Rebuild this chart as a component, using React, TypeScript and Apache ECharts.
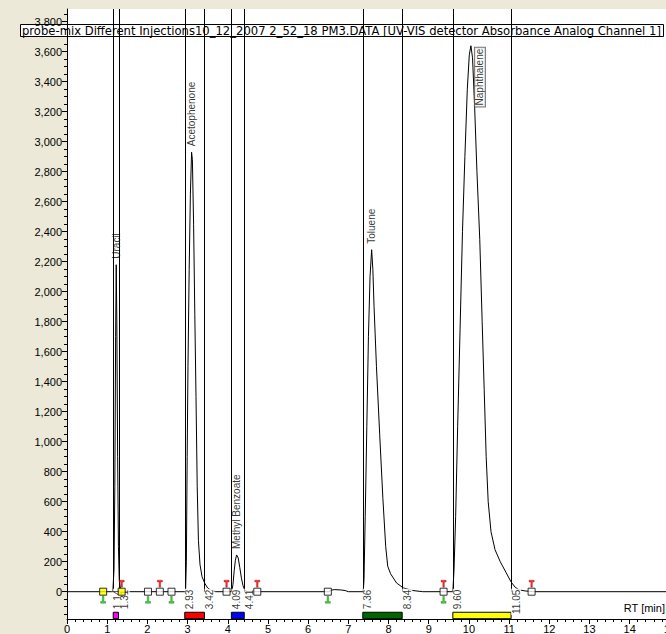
import React, { useEffect, useRef } from 'react';
import * as echarts from 'echarts';

// ---- Chromatogram trace (retention time in min, absorbance) ----
const rtMinutes = [
  0, 1.10, 1.14, 1.17, 1.19, 1.21, 1.225, 1.24, 1.26, 1.28, 1.30, 1.33, 1.40,
  2.95, 2.97, 2.99, 3.01, 3.04, 3.07, 3.10, 3.12, 3.15, 3.18, 3.21, 3.24, 3.27, 3.31, 3.36, 3.43, 3.50, 3.58, 3.70,
  4.10, 4.13, 4.16, 4.19, 4.22, 4.26, 4.30, 4.34, 4.38, 4.42, 4.48,
  6.52, 6.58, 6.65, 6.80, 6.92, 7.00,
  7.37, 7.39, 7.42, 7.46, 7.50, 7.54, 7.58, 7.61, 7.64, 7.70, 7.78, 7.86, 7.93, 7.98, 8.05, 8.20, 8.37, 8.60, 8.85,
  9.60, 9.63, 9.67, 9.72, 9.78, 9.84, 9.90, 9.96, 10.01, 10.05, 10.09, 10.14, 10.20, 10.27, 10.33, 10.38, 10.43, 10.48, 10.55, 10.65, 10.78, 10.92, 11.05, 11.15, 11.25, 11.40, 11.60,
  15.75,
];
const absorbance = [
  0, 0, 0, 150, 700, 1700, 2180, 1800, 900, 300, 80, 15, 0,
  0, 200, 900, 1500, 2150, 2650, 2930, 2880, 2450, 1850, 1300, 700, 340, 180, 100, 55, 25, 10, 0,
  0, 50, 140, 210, 245, 225, 160, 90, 40, 12, 0,
  0, 10, 14, 12, 8, 0,
  0, 80, 500, 1100, 1700, 2100, 2280, 2150, 1900, 1500, 1050, 620, 300, 170, 120, 58, 25, 8, 0,
  0, 150, 500, 1100, 1750, 2400, 2900, 3350, 3580, 3640, 3560, 3250, 2800, 2350, 1800, 1350, 900, 600, 400, 280, 200, 130, 65, 30, 12, 5, 0,
  0,
];

// ---- Peak annotations ----
const compoundNames = ['Uracil', 'Acetophenone', 'Methyl Benzoate', 'Toluene', 'Naphthalene'];
const apexRT = [1.225, 3.10, 4.22, 7.58, 10.05];
const apexHeight = [2180, 2930, 245, 2280, 3640];

const boundaryRT = [1.14, 1.31, 2.93, 3.42, 4.09, 4.41, 7.36, 8.34, 9.60, 11.05];
const boundaryLabels = ['1.14', '1.31', '2.93', '3.42', '4.09', '4.41', '7.36', '8.34', '9.60', '11.05'];

const windowStart = [1.15, 2.93, 4.09, 7.36, 9.60];
const windowEnd = [1.28, 3.42, 4.41, 8.34, 11.05];
const windowColors = ['#FF00FF', '#FF0000', '#0000FF', '#006400', '#FFFF00'];

// ---- Baseline event markers ----
const squareRT = [0.9, 1.36, 2.015, 2.31, 2.6, 3.97, 4.735, 6.49, 9.37, 11.56];
const squareFill = ['#FFFF00', '#FFFF00', '#FFFFFF', '#FFFFFF', '#FFFFFF', '#FFFFFF', '#FFFFFF', '#FFFFFF', '#FFFFFF', '#FFFFFF'];
const redEventRT = [1.36, 2.31, 3.97, 4.735, 9.37, 11.56];
const greenEventRT = [0.9, 2.015, 2.6, 6.49, 9.37];

// ---- Axis ticks ----
const yTickValues = [0, 200, 400, 600, 800, 1000, 1200, 1400, 1600, 1800, 2000, 2200, 2400, 2600, 2800, 3000, 3200, 3400, 3600, 3800];
const yMinorTickValues: number[] = [];
for (let v = -150; v <= 3850; v += 50) {
  if (v % 200 !== 0) yMinorTickValues.push(v);
}

const TITLE = 'probe-mix Different Injections10_12_2007 2_52_18 PM3.DATA [UV-VIS detector Absorbance Analog Channel 1]';
const FONT = '"Liberation Sans", Arial, sans-serif';
const TITLE_FONT = '"DejaVu Sans", Verdana, sans-serif';
const Y_MIN = -182;
const Y_MAX = 3885;

const redT = 'path://M0,0H10V3H6.5V12H3.5V3H0Z';
const greenT = 'path://M3.5,0H6.5V9H10V12H0V9H3.5Z';

function buildOption() {
  const trace = rtMinutes.map((t, i) => [t, absorbance[i]]);
  return {
    animation: false,
    backgroundColor: '#FFFFFF',
    textStyle: { fontFamily: FONT },
    grid: { left: 67, right: 0, top: 9, bottom: 15, containLabel: false },
    xAxis: {
      type: 'value',
      min: 0,
      max: 15.75,
      interval: 1,
      axisLine: { onZero: false, lineStyle: { color: '#000', width: 1 } },
      axisTick: { length: 5, lineStyle: { color: '#000' } },
      minorTick: { show: true, splitNumber: 5, length: 3, lineStyle: { color: '#000' } },
      axisLabel: { color: '#000', fontSize: 11, margin: 4, showMaxLabel: false, fontFamily: FONT },
      splitLine: { show: false },
      minorSplitLine: { show: false },
    },
    yAxis: [
      {
        type: 'value',
        min: Y_MIN,
        max: Y_MAX,
        z: 5,
        axisLine: { show: true, onZero: false, lineStyle: { color: '#000', width: 1 } },
        axisTick: { show: true, length: 5, customValues: yTickValues, lineStyle: { color: '#000' } },
        axisLabel: {
          customValues: yTickValues,
          color: '#000',
          fontSize: 11,
          margin: 5,
          fontFamily: FONT,
          formatter: (v: number) => Number(v).toLocaleString('en-US'),
        },
        splitLine: { show: false },
      },
      {
        type: 'value',
        min: Y_MIN,
        max: Y_MAX,
        position: 'left',
        z: 5,
        axisLine: { show: false },
        axisLabel: { show: false },
        axisTick: { show: true, length: 3, customValues: yMinorTickValues, lineStyle: { color: '#000' } },
        splitLine: { show: false },
      },
    ],
    graphic: [
      { type: 'rect', silent: true, z: -10, shape: { x: 0, y: 0, width: 67, height: 634 }, style: { fill: '#ECE9D8' } },
      { type: 'rect', silent: true, z: -10, shape: { x: 0, y: 0, width: 700, height: 9 }, style: { fill: '#ECE9D8' } },
      { type: 'rect', silent: true, z: 1, shape: { x: 20.5, y: 24.5, width: 643, height: 12 }, style: { fill: '#FFFFFF', stroke: '#000', lineWidth: 1 } },
      { type: 'text', silent: true, z: 1, x: 22, y: 31, style: { text: TITLE, font: `11.6px ${TITLE_FONT}`, fill: '#000', verticalAlign: 'middle' } },
      { type: 'text', silent: true, z: 6, x: 665, y: 608, style: { text: 'RT [min]', font: `11px ${FONT}`, fill: '#000', align: 'right', verticalAlign: 'middle' } },
    ],
    series: [
      {
        type: 'line',
        name: 'trace',
        data: trace,
        symbol: 'none',
        z: 3,
        lineStyle: { color: '#000', width: 1 },
        markLine: {
          silent: true,
          symbol: ['none', 'none'],
          label: { show: false },
          lineStyle: { color: '#000', width: 1, type: 'solid' },
          data: boundaryRT.map((t) => [{ coord: [t, 0] }, { coord: [t, Y_MAX] }]),
        },
        markArea: {
          silent: true,
          itemStyle: { borderColor: '#000', borderWidth: 1, opacity: 1 },
          data: windowStart.map((s, i) => [
            { xAxis: s, yAxis: -137, itemStyle: { color: windowColors[i], borderColor: '#000', borderWidth: 1 } },
            { xAxis: windowEnd[i], yAxis: -180 },
          ]),
        },
      },
      {
        type: 'scatter',
        name: 'rtLabels',
        z: 6,
        symbolSize: 1,
        itemStyle: { color: 'rgba(0,0,0,0)' },
        data: boundaryRT.map((t, i) => ({ value: [t, 0], name: boundaryLabels[i] })),
        label: {
          show: true,
          formatter: '{b}',
          position: 'inside',
          rotate: 90,
          align: 'right',
          verticalAlign: 'top',
          offset: [3, 0],
          fontSize: 10,
          fontFamily: FONT,
          color: '#000',
          backgroundColor: '#FFFFFF',
          padding: [0, 1, 0, 1],
        },
      },
      {
        type: 'scatter',
        name: 'squares',
        z: 7,
        symbol: 'rect',
        symbolSize: 7,
        data: squareRT.map((t, i) => ({ value: [t, 0], itemStyle: { color: squareFill[i] } })),
        itemStyle: { borderColor: '#000', borderWidth: 1 },
      },
      {
        type: 'scatter',
        name: 'redEvents',
        z: 7,
        symbol: redT,
        symbolSize: [5, 7],
        symbolOffset: [0, -8],
        data: redEventRT.map((t) => [t, 0]),
        itemStyle: { color: '#FF0000', borderColor: '#9A0000', borderWidth: 0.5 },
      },
      {
        type: 'scatter',
        name: 'greenEvents',
        z: 7,
        symbol: greenT,
        symbolSize: [5, 7],
        symbolOffset: [0, 8],
        data: greenEventRT.map((t) => [t, 0]),
        itemStyle: { color: '#22C022', borderColor: '#0A700A', borderWidth: 0.5 },
      },
      {
        type: 'scatter',
        name: 'compounds',
        z: 6,
        symbolSize: 1,
        itemStyle: { color: 'rgba(0,0,0,0)' },
        data: apexRT.map((t, i) => {
          const item: any = { value: [t, apexHeight[i]], name: compoundNames[i] };
          if (compoundNames[i] === 'Naphthalene') {
            item.label = {
              align: 'right',
              verticalAlign: 'top',
              offset: [-2, 4],
              borderColor: '#555',
              borderWidth: 1,
              padding: [0, 1, 0, 1],
              backgroundColor: '#FFFFFF',
            };
          }
          return item;
        }),
        label: {
          show: true,
          formatter: '{b}',
          position: 'inside',
          rotate: 90,
          align: 'left',
          verticalAlign: 'middle',
          offset: [6, 0],
          fontSize: 10,
          fontFamily: FONT,
          color: '#000',
        },
      },
    ],
  };
}

export default function App() {
  const ref = useRef<HTMLDivElement>(null);
  useEffect(() => {
    if (!ref.current) return;
    const chart = echarts.init(ref.current, null, { renderer: 'svg' });
    chart.setOption(buildOption() as any);
    return () => chart.dispose();
  }, []);
  return (
    <div
      style={{
        position: 'fixed',
        left: 0,
        top: 0,
        width: 666,
        height: 634,
        overflow: 'hidden',
        background: '#ECE9D8',
      }}
    >
      <div ref={ref} style={{ width: 700, height: 634 }} />
    </div>
  );
}
